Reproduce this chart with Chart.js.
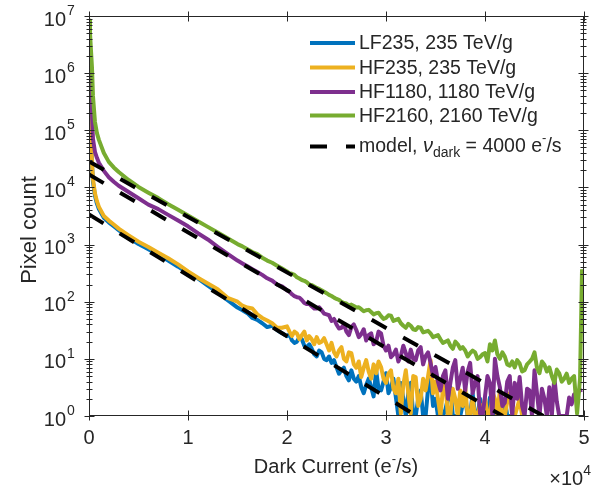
<!DOCTYPE html>
<html>
<head>
<meta charset="utf-8">
<script src="https://cdn.jsdelivr.net/npm/chart.js@4.4.0/dist/chart.umd.min.js"></script>
<style>
  html, body { margin: 0; padding: 0; background: #fff; }
</style>
</head>
<body>
<canvas id="dark-chart" width="600" height="485"></canvas>
<script>
// histogram bin centres (e-/s)
const current = [0, 100, 200, 300, 400, 600, 800, 1000, 1500, 2000, 2500, 3000, 4000, 5000, 6000, 7000, 8000, 9000, 10000, 11000, 12000, 13000, 14000,
  15000, 15500, 16000, 16500, 17000, 17500, 18000, 18500, 19000, 19500,
  20000, 20250, 20500, 20750, 21000, 21250, 21500, 21750,
  22000, 22250, 22500, 22750, 23000, 23250, 23500, 23750,
  24000, 24250, 24500, 24750, 25000, 25250, 25500, 25750,
  26000, 26250, 26500, 26750, 27000, 27250, 27500, 27750,
  28000, 28250, 28500, 28750, 29000, 29250, 29500, 29750,
  30000, 30250, 30500, 30750, 31000, 31250, 31500, 31750,
  32000, 32250, 32500, 32750, 33000, 33250, 33500, 33750,
  34000, 34250, 34500, 34750, 35000, 35250, 35500, 35750,
  36000, 36250, 36500, 36750, 37000, 37250, 37500, 37750,
  38000, 38250, 38500, 38750, 39000, 39250, 39500, 39750,
  40000, 40250, 40500, 40750, 41000, 41250, 41500, 41750,
  42000, 42250, 42500, 42750, 43000, 43250, 43500, 43750,
  44000, 44250, 44500, 44750, 45000, 45250, 45500, 45750,
  46000, 46250, 46500, 46750, 47000, 47250, 47500, 47750,
  48000, 48250, 48500, 48750, 49000,
  49300, 49600, 49800];

// pixel counts per bin
const lf235 = [6300000, 280000, 63000, 25000, 12600, 7200, 5200, 4200, 2950, 2450, 2090, 1780, 1320, 1020, 830, 660, 525, 410, 316, 257, 191, 145, 107,
  79, 71, 63, 52, 48, 42, 36, 38, 32, 28,
  25, 27, 21, 19, 20, 24, 22, 17,
  16, 18, 15, 12, 11, 14, 13, 10,
  9.5, 11, 8.5, 9.5, 7.1, 5.5, 6.3, 7,
  5, 4.2, 6.3, 4.5, 4, 5, 3.2, 2.5,
  3.5, 4.5, 3.2, 2.2, 6.3, 3, 2.8, 4,
  5.6, 2.5, 3.2, 4.5, 2.1, 1, 3.8, 2,
  1, 2.5, 3.8, 1, 1, 2, 2.8, 1,
  1, 3, 4.8, 1.5, 2, 1, 1, 1,
  1.3, 2, 3.2, 1, 1, 1, 1, 1.6,
  2, 1, 1, 2.5, 1, 1, 2, 1,
  1, 1, 2.1, 1, 1, 1.5, 1, 1,
  2, 1, 1, 1, null, null, null, null,
  null, null, null, null, null, null, null, null,
  null, null, null, null, null, null, null, null,
  null, null, null, null, null,
  null, null, null];

const hf235 = [7100000, 400000, 79000, 28000, 14100, 7900, 5750, 4570, 3160, 2630, 2240, 1900, 1450, 1120, 910, 720, 575, 450, 340, 263, 209, 166, 117,
  100, 85, 79, 76, 60, 52, 47, 42, 35, 35,
  37, 30, 25, 30, 28, 22, 26, 30,
  21, 25, 22, 18, 24, 19, 20, 23,
  18, 14, 19, 13, 11, 14, 16, 10,
  9, 13, 12.6, 8, 7, 9, 4.8, 7,
  9.5, 6, 4.5, 8, 5.6, 9, 7.2, 4.5,
  3.8, 5.5, 6.3, 3, 2.5, 4.5, 1.1, 3.5,
  6.3, 2.5, 1.1, 5, 4.8, 1.5, 2, 4.5,
  2.8, 5, 9.5, 2.5, 4, 2, 1, 3,
  3.8, 1, 1, 3, 2, 1, 2.8, 1.5,
  3.2, 1, 1, 2, 1, 1, 1.6, 1,
  2.1, 1, 1, 2.6, 2, 1, 2.8, 1,
  1, 1.8, 2.5, 1, 1, 1.4, 2, 1,
  1, null, null, null, null, null, null, null,
  null, null, null, null, null, null, null, null,
  null, null, null, null, null,
  null, null, null];

const hf1180 = [7100000, 2000000, 630000, 200000, 71000, 42000, 33000, 27000, 19500, 15100, 12600, 10700, 8300, 6460, 5000, 4170, 3310, 2630, 2090, 1580, 1230, 910, 690,
  525, 468, 417, 372, 331, 295, 257, 234, 200, 186,
  158, 150, 135, 125, 120, 118, 107, 95,
  91, 92, 83, 76, 76, 80, 71, 62,
  60, 58, 46, 50, 40, 34, 35, 40,
  30, 26, 36, 40, 32, 24, 27, 33,
  21, 26, 28, 18, 20, 30, 28, 17,
  14, 17, 10.7, 12, 14.5, 9, 11.2, 17,
  12.6, 9, 14.5, 10, 9.5, 14, 16, 8,
  11.2, 13, 8.5, 5, 7.2, 4, 2.8, 5,
  6.3, 2, 3.8, 7, 9.5, 3, 4.5, 7,
  2.8, 6, 8.5, 2.5, 3.8, 5, 1.1, 1,
  2.2, 5, 3.8, 1, 10, 5, 3.2, 1.5,
  1.7, 4, 5, 1, 3.8, 2, 4.8, 1.5,
  1, 3, 2.8, 1, 6.3, 2.5, 1, 3,
  2, 1, 3.2, 1, 4.8, 1.8, 1, 1,
  1, 1, 2.1, 1.6, 2.4,
  2.5, 2.8, 2.9];

const hf2160 = [8300000, 5000000, 2500000, 1260000, 400000, 141000, 89000, 68000, 40000, 28000, 22400, 18600, 13500, 10200, 8100, 6500, 5100, 4070, 3240, 2570, 2040, 1620, 1290,
  1020, 930, 830, 740, 680, 590, 525, 480, 427, 380,
  339, 315, 309, 295, 269, 255, 240, 232,
  219, 200, 195, 185, 174, 168, 158, 150,
  141, 132, 126, 118, 112, 108, 100, 95,
  93, 86, 89, 84, 79, 80, 74, 68,
  71, 72, 66, 60, 63, 64, 56, 50,
  52, 58, 57, 46, 48, 50, 42, 38,
  35, 41, 38, 33, 32, 36, 35, 29,
  30, 31, 28, 24, 25, 26, 22, 19,
  20, 21, 17, 15, 20, 18, 15, 16,
  14, 11, 12.6, 14, 13, 10, 10.7, 12,
  12.6, 9, 18, 14, 21, 12, 10, 13,
  11, 8, 7.6, 9, 7.1, 9.5, 8.3, 6,
  6.3, 8, 8.9, 10, 13, 7, 5.6, 9,
  7.9, 6, 7.1, 5, 3.8, 6.5, 5.6, 4,
  4.5, 5.5, 3.8, 4.5, 5,
  1.1, 4.5, 370];

// exponential model lines: count at 0 e-/s and current where it reaches 1
const modelStart = [3360, 16800, 28400];
const modelEnd = [33100, 41800, 45900];

const seriesNames = ['LF235, 235 TeV/g', 'HF235, 235 TeV/g', 'HF1180, 1180 TeV/g', 'HF2160, 2160 TeV/g'];
const seriesColors = ['#0072BD', '#EDB120', '#7E2F8E', '#77AC30'];
const xTicks = [0, 10000, 20000, 30000, 40000, 50000];
const yExponents = [0, 1, 2, 3, 4, 5, 6, 7];

const axisColor = '#262626';
const FONT = '"Liberation Sans", Arial, sans-serif';

function font(size, italic) {
    return (italic ? 'italic ' : '') + size + 'px ' + FONT;
}

// draws text made of pieces with their own size / vertical shift
function drawRich(ctx, parts, x, y, align) {
    let w = 0;
    parts.forEach(p => { ctx.font = font(p[1], p[3]); w += ctx.measureText(p[0]).width; });
    let cx = align === 'right' ? x - w : (align === 'center' ? x - w / 2 : x);
    ctx.textAlign = 'left';
    ctx.textBaseline = 'middle';
    parts.forEach(p => {
        ctx.font = font(p[1], p[3]);
        ctx.fillText(p[0], cx, y + (p[2] || 0));
        cx += ctx.measureText(p[0]).width;
    });
}

// box, ticks through the axis lines, tick labels, axis titles and legend
const framePlugin = {
    id: 'frame',
    afterDraw(chart) {
        const ctx = chart.ctx;
        const a = chart.chartArea;
        const xs = chart.scales.x;
        const ys = chart.scales.y;
        ctx.save();
        ctx.strokeStyle = axisColor;
        ctx.fillStyle = axisColor;
        ctx.lineWidth = 1;
        ctx.setLineDash([]);
        ctx.strokeRect(a.left + 0.5, a.top + 0.5, a.right - a.left - 1, a.bottom - a.top - 1);

        const L = a.left + 0.5, R = a.right - 0.5, T = a.top + 0.5, B = a.bottom - 0.5;
        ctx.beginPath();
        yExponents.forEach(e => {
            const py = Math.round(ys.getPixelForValue(Math.pow(10, e))) + 0.5;
            ctx.moveTo(L - 5, py); ctx.lineTo(L + 5, py);
            ctx.moveTo(R - 5, py); ctx.lineTo(R + 5, py);
            if (e < 7) {
                for (let m = 2; m <= 9; m++) {
                    const pm = Math.round(ys.getPixelForValue(m * Math.pow(10, e))) + 0.5;
                    ctx.moveTo(L - 3, pm); ctx.lineTo(L + 3, pm);
                    ctx.moveTo(R - 3, pm); ctx.lineTo(R + 3, pm);
                }
            }
        });
        xTicks.forEach(v => {
            const px = Math.round(xs.getPixelForValue(v)) + 0.5;
            ctx.moveTo(px, B - 5); ctx.lineTo(px, B + 5);
            ctx.moveTo(px, T - 5); ctx.lineTo(px, T + 5);
        });
        ctx.stroke();

        // tick labels
        yExponents.forEach(e => {
            const py = ys.getPixelForValue(Math.pow(10, e));
            ctx.font = font(20);
            ctx.textAlign = 'right';
            ctx.textBaseline = 'middle';
            ctx.fillText('10', 66, py + 4);
            ctx.font = font(14);
            ctx.textAlign = 'left';
            ctx.fillText(String(e), 67, py - 5);
        });
        ctx.font = font(20);
        ctx.textAlign = 'center';
        ctx.textBaseline = 'middle';
        xTicks.forEach(v => {
            ctx.fillText(String(v / 10000), xs.getPixelForValue(v), 438);
        });
        drawRich(ctx, [['\u00d7', 20], ['10', 20], ['4', 14, -8]], 591, 479, 'right');

        // axis titles
        drawRich(ctx, [['Dark Current (e', 20], ['-', 13, -8], ['/s)', 20]], 336, 467, 'center');
        ctx.save();
        ctx.translate(30, 230);
        ctx.rotate(-Math.PI / 2);
        drawRich(ctx, [['Pixel count', 22]], 0, 0, 'center');
        ctx.restore();

        // legend
        const rows = [43, 67.5, 92, 115.5];
        ctx.lineWidth = 4;
        seriesNames.forEach((name, i) => {
            ctx.strokeStyle = seriesColors[i];
            ctx.beginPath();
            ctx.moveTo(310, rows[i]); ctx.lineTo(355, rows[i]);
            ctx.stroke();
            drawRich(ctx, [[name, 19.5]], 359, rows[i] + 1, 'left');
        });
        const my = 146.5;
        ctx.strokeStyle = '#000';
        ctx.setLineDash([17, 19]);
        ctx.beginPath();
        ctx.moveTo(310, my); ctx.lineTo(355, my);
        ctx.stroke();
        ctx.setLineDash([]);
        drawRich(ctx, [['model, ', 19.5], ['\u03bd', 20, 0, true], ['dark', 14, 7], [' = 4000 e', 19.5], ['-', 13, -8], ['/s', 19.5]], 359, my, 'left');
        ctx.restore();
    }
};

const datasets = [lf235, hf235, hf1180, hf2160].map((counts, i) => ({
    label: seriesNames[i],
    data: current.map((x, j) => ({ x: x, y: counts[j] })),
    borderColor: seriesColors[i],
    borderWidth: 4,
    borderJoinStyle: 'round',
    pointRadius: 0,
    tension: 0,
    order: 4 - i
}));

modelStart.forEach((start, k) => {
    datasets.push({
        label: 'model',
        data: [{ x: 0, y: start }, { x: modelEnd[k], y: 1 }],
        borderColor: '#000',
        borderWidth: 4,
        borderDash: [17, 19],
        pointRadius: 0,
        order: 0
    });
});

const ctx = document.getElementById('dark-chart').getContext('2d');
const chart = new Chart(ctx, {
    type: 'line',
    data: { datasets: datasets },
    options: {
        responsive: false,
        animation: false,
        devicePixelRatio: 1,
        layout: { padding: { left: 89, top: 16, right: 16, bottom: 69 } },
        scales: {
            x: { type: 'linear', min: 0, max: 50000, display: false },
            y: { type: 'logarithmic', min: 1, max: 10000000, display: false }
        },
        plugins: {
            legend: { display: false },
            tooltip: { enabled: false }
        }
    },
    plugins: [framePlugin]
});
</script>
</body>
</html>
